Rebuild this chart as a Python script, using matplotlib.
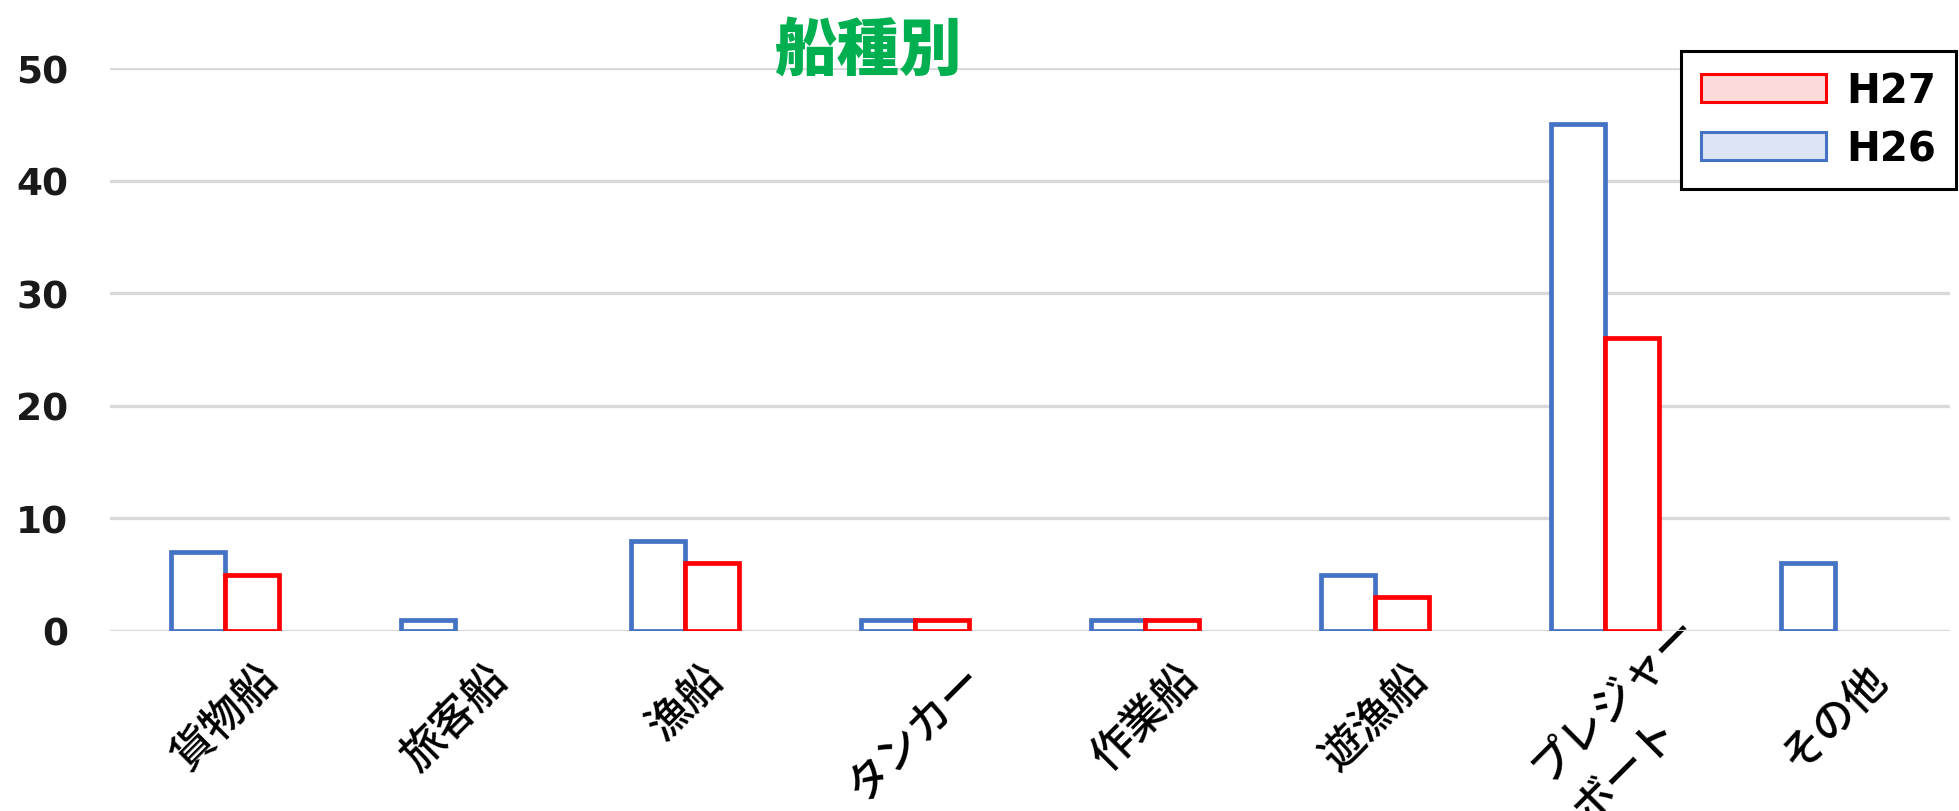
import matplotlib.pyplot as plt
import matplotlib.transforms as mtransforms
import numpy as np
from matplotlib.patches import Patch

plt.rcParams['font.family'] = ['Noto Sans CJK JP', 'DejaVu Sans']

# data
categories = ['貨物船', '旅客船', '漁船', 'タンカー', '作業船', '遊漁船', 'プレジャー\nボート', 'その他']
h26 = [7, 1, 8, 1, 1, 5, 45, 6]
h27 = [5, 0, 6, 1, 1, 3, 26, 0]

blue = '#4472c4'
red = '#ff0000'

fig = plt.figure(figsize=(19.59, 8.12), dpi=100)
ax = fig.add_axes([110 / 1959, 180 / 812, 1840 / 1959, 563 / 812])

x = np.arange(len(categories))
w = 0.235
v26 = np.array(h26, dtype=float)
v27 = np.array(h27, dtype=float)
m26 = v26 > 0
m27 = v27 > 0
ax.bar(x[m26] - w / 2, v26[m26], w, facecolor='white', edgecolor=blue, linewidth=3.4, zorder=3)
ax.bar(x[m27] + w / 2, v27[m27], w, facecolor='white', edgecolor=red, linewidth=3.4, zorder=3)

ax.set_xlim(-0.5, len(categories) - 0.5)
ax.set_ylim(0, 50)
ax.set_yticks(range(0, 51, 10))
ax.yaxis.grid(True, color='#d9d9d9', linewidth=2.4)
ax.set_axisbelow(True)
for s in ax.spines.values():
    s.set_visible(False)

ax.tick_params(axis='y', length=0, pad=30, labelsize=27)
for lab in ax.get_yticklabels():
    lab.set_fontfamily(['DejaVu Sans'])
    lab.set_fontweight('bold')
    lab.set_color('#1a1a1a')

ax.set_xticks(x)
ax.set_xticklabels(categories, rotation=45, ha='center', va='top',
                   fontsize=31, fontweight='medium', multialignment='center', linespacing=1.5)
ax.tick_params(axis='x', length=0, pad=18)

# the two-line label sits higher and further right in the original, lines left-aligned
two_line = ax.get_xticklabels()[6]
two_line.set_multialignment('left')
two_line.set_transform(two_line.get_transform() +
                       mtransforms.ScaledTranslation(0.30, 0.50, fig.dpi_scale_trans))

fig.text(868 / 1959, 1 - 52 / 812, '船種別', color='#00b050', fontsize=45,
         fontweight='heavy', ha='center', va='center')

handles = [Patch(facecolor='#fbdada', edgecolor=red, linewidth=2.2),
           Patch(facecolor='#dde5f5', edgecolor=blue, linewidth=2.2)]
leg = fig.legend(handles, ['H27', 'H26'], loc='upper left',
                 bbox_to_anchor=(1681 / 1959, 1 - 52 / 812), borderaxespad=0,
                 prop={'family': 'DejaVu Sans', 'weight': 'bold', 'size': 29},
                 handlelength=3.1, handleheight=0.7, handletextpad=0.5,
                 labelspacing=0.45, borderpad=0.5, fancybox=False,
                 framealpha=1, edgecolor='black')
leg.get_frame().set_linewidth(2.2)

plt.savefig('out.png', dpi=100)
